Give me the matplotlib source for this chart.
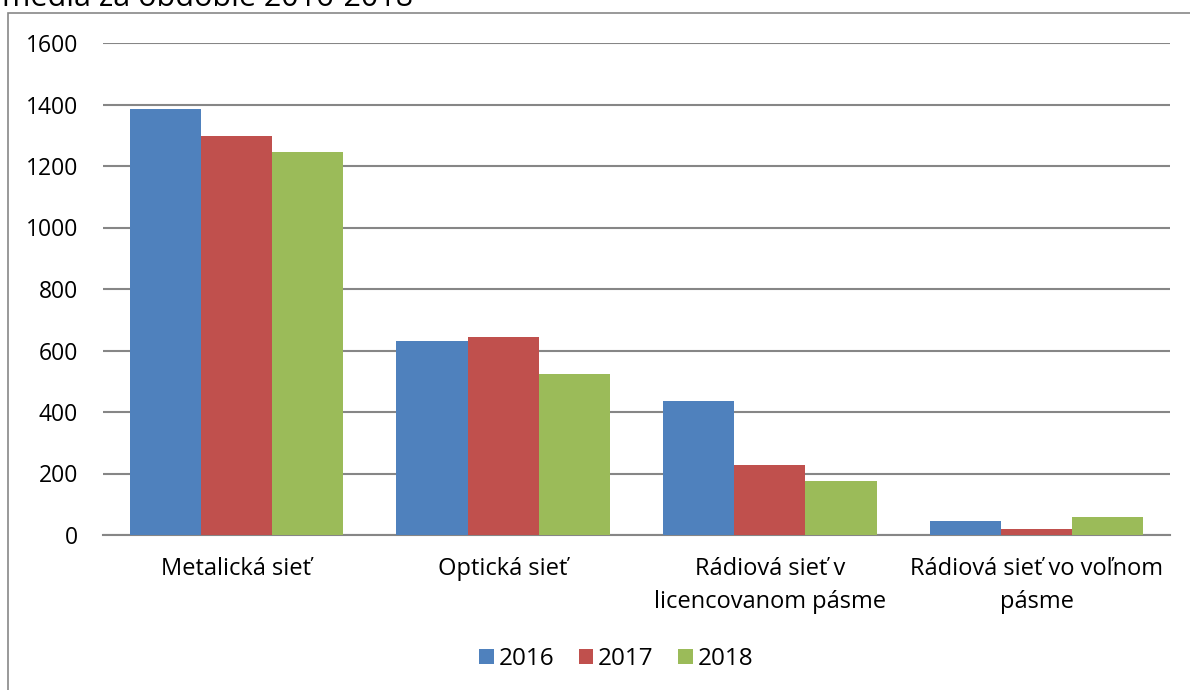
import numpy as np
import matplotlib.pyplot as plt
from matplotlib.patches import Rectangle

categories = ['Metalická sieť', 'Optická sieť', 'Rádiová sieť v\nlicencovanom pásme',
              'Rádiová sieť vo voľnom\npásme']
years = ['2016', '2017', '2018']
v2016 = [1385, 631, 436, 45]
v2017 = [1298, 644, 228, 20]
v2018 = [1245, 524, 176, 58]
colors = ['#4F81BD', '#C0504D', '#9BBB59']

plt.rcParams['font.family'] = ['Open Sans', 'DejaVu Sans']

fig = plt.figure(figsize=(11.9, 6.9), dpi=100)
fig.patches.append(Rectangle((8/1190, -0.01), 1.1, (690-13)/690 + 0.01, transform=fig.transFigure,
                             fill=False, edgecolor='#878787', linewidth=1.2))
fig.text(2/1190, 1 - 6/690, 'média za obdobie 2016-2018', fontsize=22, va='baseline', ha='left')

ax = fig.add_axes([103/1190, 155/690, 1067/1190, 492/690])
x = np.arange(len(categories))
w = 0.8 / 3
for i, (vals, yr) in enumerate(zip([v2016, v2017, v2018], years)):
    ax.bar(x + (i - 1) * w, vals, w, color=colors[i], label=yr, zorder=3)

ax.set_xlim(-0.5, len(categories) - 0.5)
ax.set_ylim(0, 1600)
ax.set_yticks(np.arange(0, 1601, 200))
ax.yaxis.grid(True, color='#868686', linewidth=1.5, zorder=0)
ax.set_axisbelow(True)
for s in ['top', 'right', 'left']:
    ax.spines[s].set_visible(False)
ax.spines['bottom'].set_color('#868686')
ax.spines['bottom'].set_linewidth(1.5)
ax.tick_params(axis='both', length=0)
ax.tick_params(axis='y', pad=18, labelsize=16.5)
ax.tick_params(axis='x', pad=16, labelsize=17)
ax.set_xticks(x)
ax.set_xticklabels(categories, linespacing=1.5)

ax.legend(loc='center', bbox_to_anchor=(0.481, -0.252), ncol=3, frameon=False, fontsize=17.5,
          handlelength=0.6, handleheight=0.6, handletextpad=0.2, columnspacing=1.0)

fig.savefig('out.png', dpi=100)
